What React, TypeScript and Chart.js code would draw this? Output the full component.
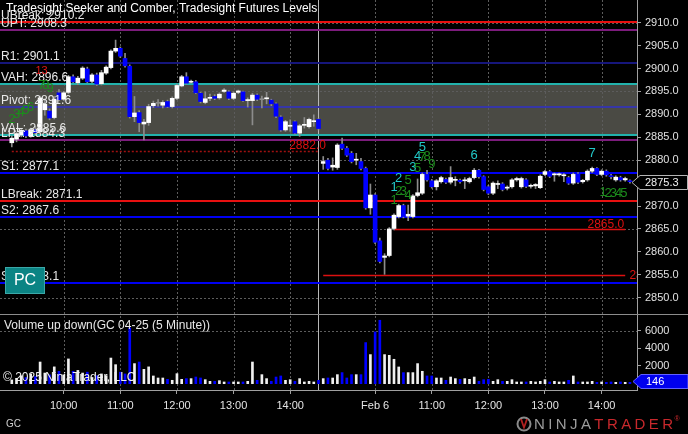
import React, { useEffect, useRef } from 'react';
import { Chart, registerables } from 'chart.js';

Chart.register(...registerables);

// ---------- categories ----------
const SESSION_DAYS = ['Feb 5', 'Feb 6'];
const SESSION_FIRST_BAR = '09:05';
const BARS_PER_SESSION = 66;
const toMin = (s: string) => parseInt(s.slice(0, 2), 10) * 60 + parseInt(s.slice(3), 10);
const hhmm = (m: number) => `${String(Math.floor(m / 60)).padStart(2, '0')}:${String(m % 60).padStart(2, '0')}`;
const BAR_LABELS: string[] = SESSION_DAYS.flatMap((d) =>
  Array.from({ length: BARS_PER_SESSION }, (_, k) => `${d} ${hhmm(toMin(SESSION_FIRST_BAR) + 5 * k)}`)
);
const LEAD_BLANKS = ['_l1', '_l2'];
const TRAIL_BLANKS = ['_t1'];
const LABELS = [...LEAD_BLANKS, ...BAR_LABELS, ...TRAIL_BLANKS];

const TIME_TICK_KEYS = ['Feb 5 10:00', 'Feb 5 11:00', 'Feb 5 12:00', 'Feb 5 13:00', 'Feb 5 14:00', 'Feb 6 10:00', 'Feb 6 11:00', 'Feb 6 12:00', 'Feb 6 13:00', 'Feb 6 14:00'];
const TIME_TICK_TEXT = ['10:00', '11:00', '12:00', '13:00', '14:00', 'Feb 6', '11:00', '12:00', '13:00', '14:00'];

// ---------- OHLC (5 minute, GC 04-25) ----------
const OPEN = [
  2883.8, 2884.6, 2885.5, 2886.4, 2885.3, 2886.6, 2886.2, 2891.0, 2890.7, 2889.3, 2894.7, 2893.3, 2894.8, 2898.2, 2896.9, 2897.9, 2899.9, 2897.2, 2898.6, 2896.7,
  2899.0, 2900.2, 2903.8, 2904.4, 2902.2, 2900.5, 2889.5, 2890.4, 2887.9, 2888.2, 2891.9, 2892.4, 2892.0, 2892.8, 2891.7, 2893.5, 2896.2, 2898.2, 2897.0, 2897.1,
  2894.6, 2892.6, 2893.5, 2893.9, 2893.6, 2895.0, 2894.9, 2893.5, 2894.8, 2894.9, 2893.0, 2893.0, 2894.2, 2893.2, 2893.4, 2893.1, 2892.3, 2889.4, 2886.6, 2887.4,
  2888.4, 2885.9, 2887.6, 2887.3, 2888.4, 2888.9,
  2879.3, 2880.0, 2878.5, 2878.4, 2883.5, 2882.6, 2881.5, 2880.0, 2879.7, 2878.2, 2869.6, 2872.4, 2862.4, 2858.8, 2859.2, 2865.1, 2867.7, 2870.1, 2867.8, 2867.7,
  2872.3, 2872.8, 2876.9, 2875.5, 2874.2, 2875.3, 2875.8, 2875.2, 2875.6, 2875.6, 2875.5, 2875.3, 2876.2, 2877.8, 2876.4, 2874.2, 2872.8, 2874.7, 2874.8, 2873.9,
  2874.2, 2875.7, 2874.2, 2875.7, 2874.3, 2874.4, 2874.0, 2876.9, 2877.5, 2876.8, 2876.8, 2876.6, 2876.2, 2875.0, 2877.0, 2875.3, 2875.7, 2877.6, 2878.2, 2876.9,
  2877.6, 2876.5, 2875.7, 2876.2, 2875.7, 2875.5,
];
const HIGH = [
  2885.3, 2886.1, 2886.9, 2886.8, 2887.0, 2887.4, 2894.0, 2893.4, 2891.2, 2893.9, 2895.4, 2895.0, 2898.5, 2898.6, 2898.3, 2900.4, 2900.3, 2898.9, 2899.0, 2899.6,
  2900.6, 2904.1, 2906.2, 2904.7, 2903.3, 2900.8, 2893.9, 2890.8, 2888.9, 2892.2, 2892.9, 2893.2, 2893.0, 2893.1, 2893.8, 2896.6, 2898.5, 2899.1, 2897.5, 2897.4,
  2894.8, 2894.9, 2894.4, 2894.3, 2894.7, 2895.6, 2895.2, 2894.9, 2895.3, 2895.1, 2893.6, 2894.6, 2894.5, 2894.0, 2894.8, 2893.3, 2892.5, 2889.7, 2888.7, 2888.8,
  2888.6, 2887.8, 2889.3, 2889.2, 2889.9, 2889.1,
  2880.8, 2880.4, 2880.5, 2883.6, 2884.8, 2883.0, 2881.9, 2881.5, 2880.4, 2878.5, 2874.8, 2872.7, 2863.0, 2859.6, 2865.3, 2868.3, 2870.4, 2870.4, 2870.2, 2872.5,
  2875.9, 2877.2, 2877.8, 2875.8, 2875.8, 2876.5, 2876.1, 2878.6, 2876.4, 2875.9, 2876.2, 2876.3, 2878.2, 2878.0, 2876.6, 2874.5, 2875.3, 2875.5, 2875.1, 2874.4,
  2876.0, 2876.3, 2876.3, 2876.0, 2874.8, 2874.9, 2876.8, 2877.8, 2877.8, 2877.2, 2877.2, 2877.1, 2876.5, 2877.2, 2877.3, 2875.8, 2877.9, 2878.5, 2878.4, 2877.9,
  2877.9, 2876.9, 2876.6, 2876.5, 2876.3, 2875.7,
];
const LOW = [
  2882.9, 2884.0, 2885.1, 2884.9, 2885.0, 2885.6, 2886.0, 2889.8, 2888.8, 2889.0, 2893.0, 2893.0, 2894.5, 2896.9, 2896.5, 2897.6, 2896.9, 2896.9, 2896.3, 2896.4,
  2898.7, 2899.9, 2903.5, 2902.4, 2900.3, 2889.2, 2888.4, 2886.2, 2884.4, 2887.6, 2891.5, 2891.8, 2891.4, 2891.5, 2891.4, 2893.2, 2896.0, 2896.6, 2896.8, 2894.5,
  2892.5, 2892.3, 2893.0, 2893.2, 2893.3, 2894.8, 2893.2, 2893.2, 2894.5, 2892.8, 2891.6, 2887.7, 2893.0, 2891.4, 2892.3, 2891.9, 2889.3, 2886.3, 2886.3, 2886.3,
  2885.6, 2885.2, 2887.0, 2887.0, 2887.4, 2886.6,
  2878.0, 2877.9, 2877.8, 2878.0, 2882.3, 2880.8, 2879.4, 2879.0, 2877.9, 2869.3, 2868.2, 2861.8, 2857.6, 2855.1, 2858.9, 2864.8, 2867.4, 2867.4, 2866.8, 2867.4,
  2872.0, 2872.5, 2875.4, 2873.9, 2873.5, 2875.0, 2874.9, 2874.8, 2874.4, 2875.0, 2873.8, 2875.0, 2875.9, 2876.1, 2873.3, 2872.5, 2872.5, 2873.8, 2873.3, 2873.5,
  2873.9, 2875.4, 2873.9, 2874.0, 2873.9, 2873.8, 2873.8, 2876.6, 2876.2, 2875.4, 2876.5, 2875.3, 2874.7, 2874.7, 2874.9, 2875.0, 2875.4, 2877.3, 2876.6, 2876.6,
  2876.5, 2875.9, 2875.4, 2875.4, 2875.4, 2875.0,
];
const CLOSE = [
  2884.8, 2885.8, 2886.5, 2885.3, 2886.6, 2886.0, 2893.6, 2892.2, 2889.2, 2893.3, 2893.2, 2894.7, 2898.2, 2897.1, 2897.9, 2900.1, 2897.1, 2898.6, 2896.6, 2899.1,
  2900.3, 2903.8, 2904.4, 2902.7, 2900.6, 2889.5, 2890.3, 2888.2, 2888.3, 2891.7, 2892.4, 2892.4, 2892.6, 2891.7, 2893.5, 2896.3, 2898.2, 2896.8, 2897.2, 2894.7,
  2892.8, 2893.4, 2893.7, 2893.5, 2894.4, 2895.3, 2893.5, 2894.6, 2895.1, 2893.0, 2893.2, 2894.2, 2893.3, 2893.2, 2893.6, 2892.3, 2889.6, 2886.6, 2888.4, 2887.5,
  2885.9, 2887.5, 2887.7, 2888.9, 2888.6, 2886.9,
  2879.7, 2878.2, 2878.9, 2883.3, 2882.6, 2881.1, 2879.7, 2880.2, 2878.2, 2869.6, 2872.4, 2862.1, 2857.9, 2859.1, 2865.0, 2868.0, 2870.1, 2867.7, 2868.2, 2872.2,
  2872.9, 2876.9, 2875.7, 2874.2, 2875.5, 2876.2, 2875.2, 2876.2, 2875.7, 2875.3, 2875.6, 2876.0, 2877.8, 2876.4, 2873.6, 2872.8, 2875.0, 2874.8, 2873.6, 2874.1,
  2875.7, 2876.0, 2876.0, 2874.3, 2874.5, 2874.7, 2876.5, 2877.5, 2876.5, 2876.9, 2877.0, 2876.7, 2875.0, 2876.9, 2875.2, 2875.6, 2877.6, 2878.2, 2876.9, 2877.6,
  2876.8, 2876.4, 2876.3, 2875.7, 2876.0, 2875.3,
];
const VOLUME = [
  420, 600, 900, 700, 1100, 800, 2450, 1200, 1000, 1900, 1400, 1000, 2800, 1400, 1500, 1200, 1300, 700, 900, 1100,
  900, 2900, 2150, 1300, 1100, 6300, 2270, 2450, 1620, 1900, 870, 640, 640, 490, 380, 1130, 490, 570, 570, 750,
  640, 450, 260, 260, 340, 190, 190, 190, 190, 190, 260, 2450, 380, 1020, 570, 260, 750, 870, 380, 450,
  260, 570, 190, 260, 190, 380,
  570, 640, 640, 1020, 1250, 640, 1020, 1020, 1020, 4650, 3290, 5860, 7180, 3290, 3210, 2760, 1890, 1250, 1250, 1250,
  2270, 1400, 870, 870, 640, 640, 380, 750, 570, 490, 570, 490, 750, 260, 450, 490, 260, 450, 260, 260,
  450, 190, 190, 190, 260, 190, 260, 450, 190, 260, 190, 190, 380, 870, 190, 190, 190, 260, 150, 190,
  150, 190, 150, 190, 150, 146,
];

// ---------- axis ticks ----------
const PRICE_TICKS = [2850, 2855, 2860, 2865, 2870, 2875, 2880, 2885, 2890, 2895, 2900, 2905, 2910];
const PRICE_GRID = [2850, 2865, 2880, 2895, 2910];
const VOLUME_TICKS = [2000, 4000, 6000];
const VOLUME_GRID = [6000];

// ---------- Tradesight levels ----------
const LEVEL_NAMES = ['UBreak', 'UPT', 'R1', 'VAH', 'Pivot', 'VAL', 'LPT', 'S1', 'LBreak', 'S2', 'S3'];
const LEVEL_VALUES = [2910.2, 2908.3, 2901.1, 2896.6, 2891.6, 2885.6, 2884.3, 2877.1, 2871.1, 2867.6, 2853.1];
const VALUE_AREA = [2885.6, 2896.6];
const TARGET_VALUES = [2882.0, 2865.0, 2855.0];
const TARGET_FROM_BAR = [0, 81, 66];
const TARGET_TO_BAR = [65, 130, 130];
const SESSION_BREAK_BAR = 65;

// ---------- Seeker / Comber counts ----------
const COUNT_TEXT = ['2', '3', '4', '5', '6', '7', '8', '9', '13',
  '5', '4', '7', '8', '9', '3', '5', '2', '5', '1', '2', '3', '1', '4', '6', '7', '1', '2', '3', '4', '5'];
const COUNT_BAR = [0, 1, 2, 3, 4, 6.3, 7.2, 8.1, 6.3,
  87, 86, 87, 88, 89, 85, 86, 82, 84, 81, 82, 83, 81, 84, 98, 123, 125.3, 126.4, 127.5, 128.6, 129.7];
const COUNT_PRICE = [2888.8, 2889.9, 2890.5, 2890.95, 2891.6, 2896.4, 2896.4, 2895.7, 2899.5,
  2882.8, 2880.9, 2880.6, 2880.9, 2879.0, 2878.4, 2878.1, 2876.0, 2875.5, 2874.1, 2873.2, 2873.2, 2871.2, 2872.4, 2881.0, 2881.4, 2872.9, 2872.8, 2872.8, 2872.8, 2872.8];
const COUNT_KIND = ['g', 'g', 'g', 'g', 'g', 'g', 'g', 'g', 'r',
  'c', 'c', 'g', 'g', 'g', 'c', 'g', 'c', 'g', 'c', 'g', 'g', 'g', 'g', 'c', 'c', 'g', 'g', 'g', 'g', 'g'];

// ---------- styles ----------
const FONT = '"Liberation Sans", Arial, sans-serif';
const LEVEL_STYLE: Record<string, string> = {
  UBreak: '#e81010', UPT: '#7c1c7c', R1: '#16167c', VAH: '#22b2ac', Pivot: '#3636a6',
  VAL: '#22b2ac', LPT: '#7c1c7c', S1: '#0000f2', LBreak: '#e81010', S2: '#0000f2', S3: '#0000f2',
};
const COUNT_COLOR: Record<string, string> = { c: '#22c8c8', g: '#1c8c1c', r: '#e01818' };
const UP = '#ffffff';
const DOWN = '#0000ff';
const FLAT = '#8c8c8c';

const pad = <T,>(arr: T[]): (T | null)[] => [...LEAD_BLANKS.map(() => null), ...arr, ...TRAIL_BLANKS.map(() => null)];
const catOf = (bar: number) => bar + LEAD_BLANKS.length;

const overlay = {
  id: 'overlay',
  beforeDatasetsDraw(chart: any) {
    const { ctx, chartArea: a, scales } = chart;
    const x = scales.x, y = scales.y, yv = scales.yv;
    const ln = (x1: number, y1: number, x2: number, y2: number) => {
      ctx.beginPath(); ctx.moveTo(x1, y1); ctx.lineTo(x2, y2); ctx.stroke();
    };
    ctx.save();
    // value area
    const vTop = y.getPixelForValue(VALUE_AREA[1]);
    const vBot = y.getPixelForValue(VALUE_AREA[0]);
    ctx.fillStyle = '#4a4a44';
    ctx.fillRect(a.left, vTop, a.right - a.left, vBot - vTop);
    // dotted grid
    ctx.strokeStyle = '#5c5c5c';
    ctx.lineWidth = 1;
    ctx.setLineDash([2, 2]);
    TIME_TICK_KEYS.forEach((k) => {
      const px = Math.round(x.getPixelForValue(LABELS.indexOf(k))) + 0.5;
      ln(px, a.top, px, a.bottom);
    });
    PRICE_GRID.forEach((v) => {
      const py = Math.round(y.getPixelForValue(v)) + 0.5;
      ln(a.left, py, a.right, py);
    });
    VOLUME_GRID.forEach((v) => {
      const py = Math.round(yv.getPixelForValue(v)) + 0.5;
      ln(a.left, py, a.right, py);
    });
    ctx.setLineDash([]);
    // session break
    ctx.strokeStyle = '#b8b8b8';
    const sx = Math.round(x.getPixelForValue(catOf(SESSION_BREAK_BAR))) - 0.5;
    ln(sx, a.top, sx, a.bottom);
    // level lines
    ctx.lineWidth = 2;
    LEVEL_NAMES.forEach((n, i) => {
      ctx.strokeStyle = LEVEL_STYLE[n];
      const py = Math.round(y.getPixelForValue(LEVEL_VALUES[i]));
      ln(a.left, py, a.right, py);
    });
    // target lines
    TARGET_VALUES.forEach((v, i) => {
      const py = Math.round(y.getPixelForValue(v)) + 0.5;
      const x1 = x.getPixelForValue(catOf(TARGET_FROM_BAR[i]));
      const x2 = x.getPixelForValue(catOf(TARGET_TO_BAR[i]));
      if (i === 0) {
        ctx.strokeStyle = '#a01010';
        ctx.lineWidth = 1.5;
        ctx.setLineDash([2, 2]);
      } else {
        ctx.strokeStyle = '#dc1010';
        ctx.lineWidth = 1.5;
        ctx.setLineDash([]);
      }
      ln(x1, py, x2, py);
    });
    ctx.restore();
  },
  afterDatasetsDraw(chart: any) {
    const { ctx, chartArea: a, scales } = chart;
    const x = scales.x, y = scales.y, yv = scales.yv;
    const W = chart.width;
    ctx.save();
    // level labels
    ctx.font = `12px ${FONT}`;
    ctx.textAlign = 'left';
    ctx.textBaseline = 'alphabetic';
    ctx.fillStyle = '#e8e8e8';
    LEVEL_NAMES.forEach((n, i) => {
      ctx.fillText(`${n}: ${LEVEL_VALUES[i].toFixed(1)}`, 1, y.getPixelForValue(LEVEL_VALUES[i]) - 3);
    });
    // target labels
    ctx.fillStyle = '#e01010';
    const t0 = y.getPixelForValue(TARGET_VALUES[0]);
    ctx.fillText(TARGET_VALUES[0].toFixed(1), x.getPixelForValue(catOf(59)) - 1, t0 - 2);
    ctx.textAlign = 'right';
    const t1 = y.getPixelForValue(TARGET_VALUES[1]);
    ctx.fillText(TARGET_VALUES[1].toFixed(1), x.getPixelForValue(catOf(TARGET_TO_BAR[1])) - 1, t1 - 1);
    ctx.save();
    ctx.beginPath();
    ctx.rect(a.left, a.top, a.right - a.left, a.bottom - a.top);
    ctx.clip();
    ctx.textAlign = 'left';
    ctx.textBaseline = 'middle';
    const t2 = y.getPixelForValue(TARGET_VALUES[2]);
    ctx.fillText(TARGET_VALUES[2].toFixed(1), x.getPixelForValue(catOf(131)) - 0.5, t2 + 1);
    ctx.restore();
    // counts
    ctx.textAlign = 'center';
    ctx.textBaseline = 'middle';
    COUNT_TEXT.forEach((t, i) => {
      ctx.fillStyle = COUNT_COLOR[COUNT_KIND[i]];
      ctx.font = COUNT_KIND[i] === 'r' ? `11px ${FONT}` : `13px ${FONT}`;
      ctx.fillText(t, x.getPixelForValue(catOf(COUNT_BAR[i])), y.getPixelForValue(COUNT_PRICE[i]));
    });
    // title
    ctx.font = `12px ${FONT}`;
    ctx.textAlign = 'left';
    ctx.fillStyle = '#ffffff';
    ctx.fillText('Tradesight Seeker and Comber, Tradesight Futures Levels', 6, 9);
    // volume panel
    ctx.fillStyle = '#e8e8e8';
    ctx.fillText('Volume up down(GC 04-25 (5 Minute))', 4, yv.top + 12);
    ctx.fillStyle = '#f0f0f0';
    ctx.fillText('\u00A9 2025 NinjaTrader, LLC', 3, 378);
    // panel separator
    ctx.strokeStyle = '#8c8c8c';
    ctx.lineWidth = 1;
    ctx.beginPath();
    ctx.moveTo(0, Math.round(yv.top) + 0.5);
    ctx.lineTo(W, Math.round(yv.top) + 0.5);
    ctx.stroke();
    // PC button
    ctx.fillStyle = '#0b8484';
    ctx.fillRect(5, 267, 40, 27);
    ctx.strokeStyle = '#3aa8a8';
    ctx.strokeRect(5.5, 267.5, 39, 26);
    ctx.fillStyle = '#ffffff';
    ctx.font = `16px ${FONT}`;
    ctx.textAlign = 'center';
    ctx.fillText('PC', 25, 281);
    // axis labels (right)
    ctx.font = `11px ${FONT}`;
    ctx.textAlign = 'left';
    ctx.fillStyle = '#e0e0e0';
    PRICE_TICKS.forEach((v) => ctx.fillText(v.toFixed(1), a.right + 8, y.getPixelForValue(v)));
    VOLUME_TICKS.forEach((v) => ctx.fillText(String(v), a.right + 8, yv.getPixelForValue(v)));
    // last price marker
    const lp = CLOSE[CLOSE.length - 1];
    const py = Math.round(y.getPixelForValue(lp)) + 0.5;
    ctx.beginPath();
    ctx.moveTo(a.right - 5, py);
    ctx.lineTo(a.right + 3, py - 7);
    ctx.lineTo(W - 0.5, py - 7);
    ctx.lineTo(W - 0.5, py + 7);
    ctx.lineTo(a.right + 3, py + 7);
    ctx.closePath();
    ctx.fillStyle = '#000000';
    ctx.fill();
    ctx.strokeStyle = '#b4b4b4';
    ctx.stroke();
    ctx.fillStyle = '#f0f0f0';
    ctx.fillText(lp.toFixed(1), a.right + 8, py);
    // last volume marker
    const lv = VOLUME[VOLUME.length - 1];
    const vy = Math.round(yv.getPixelForValue(lv)) - 0.5;
    ctx.beginPath();
    ctx.moveTo(a.right - 4, vy);
    ctx.lineTo(a.right + 4, vy - 7);
    ctx.lineTo(W, vy - 7);
    ctx.lineTo(W, vy + 7);
    ctx.lineTo(a.right + 4, vy + 7);
    ctx.closePath();
    ctx.fillStyle = '#0000ee';
    ctx.fill();
    ctx.strokeStyle = '#6060ff';
    ctx.stroke();
    ctx.fillStyle = '#ffffff';
    ctx.fillText(String(lv), a.right + 9, vy);
    // footer
    ctx.font = `10px ${FONT}`;
    ctx.fillStyle = '#cfcfcf';
    ctx.fillText('GC', 6, 424);
    // NinjaTrader logo
    ctx.strokeStyle = '#8a8a8a';
    ctx.lineWidth = 2;
    ctx.beginPath();
    ctx.arc(524, 424, 6.5, 0, Math.PI * 2);
    ctx.stroke();
    ctx.fillStyle = '#b02020';
    ctx.beginPath();
    ctx.moveTo(520, 419);
    ctx.lineTo(524, 430);
    ctx.lineTo(528, 419);
    ctx.lineTo(526, 419);
    ctx.lineTo(524, 425);
    ctx.lineTo(522, 419);
    ctx.closePath();
    ctx.fill();
    ctx.font = `15px ${FONT}`;
    ctx.textAlign = 'left';
    let lx = 534;
    const logo = 'NINJATRADER';
    for (let i = 0; i < logo.length; i++) {
      ctx.fillStyle = i < 5 ? '#9c9c9c' : '#c8282c';
      ctx.fillText(logo[i], lx, 425);
      lx += ctx.measureText(logo[i]).width + 3.4;
    }
    ctx.font = `7px ${FONT}`;
    ctx.fillStyle = '#c8282c';
    ctx.fillText('\u00AE', lx - 2, 419);
    ctx.restore();
  },
};

export default function App() {
  const ref = useRef<HTMLCanvasElement>(null);
  useEffect(() => {
    const up = (i: number) => (CLOSE[i] > OPEN[i] ? UP : CLOSE[i] < OPEN[i] ? DOWN : FLAT);
    const bodyColors = OPEN.map((_, i) => up(i));
    const volColors = OPEN.map((_, i) => (CLOSE[i] < OPEN[i] ? DOWN : '#f0f0f0'));
    const chart = new Chart(ref.current as HTMLCanvasElement, {
      type: 'bar',
      data: {
        labels: LABELS,
        datasets: [
          {
            label: 'body',
            data: pad(OPEN.map((o, i) => [o, CLOSE[i]])) as any,
            backgroundColor: pad(bodyColors) as any,
            barThickness: 4,
            minBarLength: 1,
            grouped: false,
            yAxisID: 'y',
            order: 0,
          },
          {
            label: 'wick',
            data: pad(LOW.map((l, i) => [l, HIGH[i]])) as any,
            backgroundColor: '#8c8c8c',
            barThickness: 1,
            grouped: false,
            yAxisID: 'y',
            order: 1,
          },
          {
            label: 'volume',
            data: pad(VOLUME) as any,
            backgroundColor: pad(volColors) as any,
            barThickness: 2,
            grouped: false,
            yAxisID: 'yv',
            order: 2,
          },
        ],
      },
      options: {
        responsive: false,
        animation: false,
        events: [],
        layout: { padding: 0 },
        plugins: { legend: { display: false }, tooltip: { enabled: false } },
        scales: {
          x: {
            type: 'category',
            offset: true,
            grid: { display: true, drawOnChartArea: false, offset: false, drawTicks: true, tickLength: 4, tickColor: '#a0a0a0' },
            border: { display: true, color: '#a0a0a0' },
            ticks: {
              autoSkip: false,
              maxRotation: 0,
              color: '#e4e4e4',
              padding: 5,
              font: { family: FONT, size: 11 },
              callback: (_v: any, i: number) => TIME_TICK_TEXT[i],
            },
            afterBuildTicks: (s: any) => {
              s.ticks = TIME_TICK_KEYS.map((k) => ({ value: LABELS.indexOf(k) }));
            },
            afterFit: (s: any) => {
              s.height = 44;
            },
          },
          y: {
            type: 'linear',
            position: 'right',
            stack: 'panels',
            stackWeight: 314,
            min: 2846.44,
            max: 2914.95,
            grid: { display: true, drawOnChartArea: false, drawTicks: true, tickLength: 4, tickColor: '#a0a0a0' },
            border: { display: true, color: '#a0a0a0' },
            ticks: { display: false },
            afterBuildTicks: (s: any) => {
              s.ticks = PRICE_TICKS.map((v) => ({ value: v }));
            },
            afterFit: (s: any) => {
              s.width = 51;
            },
          },
          yv: {
            type: 'linear',
            position: 'right',
            stack: 'panels',
            stackWeight: 76,
            min: -719,
            max: 7888,
            grid: { display: true, drawOnChartArea: false, drawTicks: true, tickLength: 4, tickColor: '#a0a0a0' },
            border: { display: true, color: '#a0a0a0' },
            ticks: { display: false },
            afterBuildTicks: (s: any) => {
              s.ticks = VOLUME_TICKS.map((v) => ({ value: v }));
            },
            afterFit: (s: any) => {
              s.width = 51;
            },
          },
        },
      } as any,
      plugins: [overlay],
    });
    return () => chart.destroy();
  }, []);
  return (
    <div style={{ position: 'fixed', left: 0, top: 0, width: 688, height: 434, background: '#000', overflow: 'hidden' }}>
      <canvas ref={ref} width={688} height={434} style={{ display: 'block' }} />
    </div>
  );
}
